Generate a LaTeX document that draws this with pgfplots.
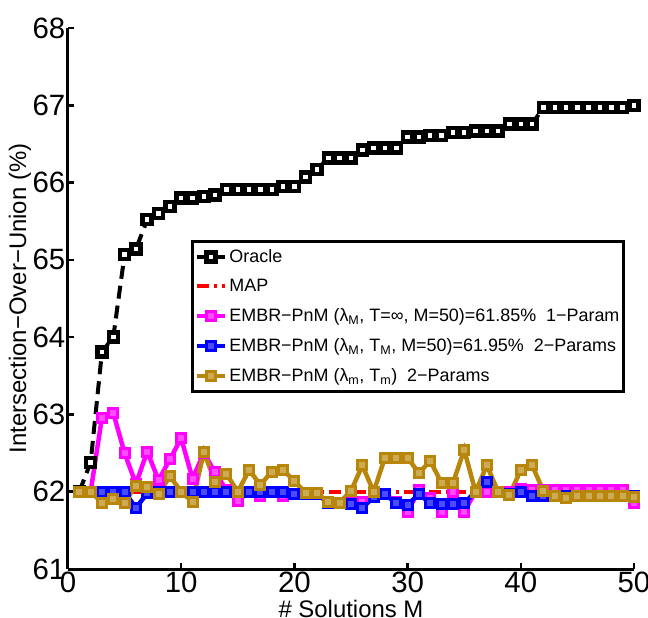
\documentclass[border=0pt]{standalone}
\usepackage{pgfplots}
\pgfplotsset{compat=1.18}
\usepackage{fontspec}
\setmainfont{Liberation Sans}
\definecolor{mybrown}{RGB}{184,134,11}
\definecolor{mymag}{RGB}{255,0,255}
\definecolor{myblue}{RGB}{0,0,255}
\definecolor{myred}{RGB}{255,0,0}

\begin{document}
\begin{tikzpicture}
\begin{axis}[
  at={(0,0)}, anchor=south west,
  scale only axis, width=566bp, height=541bp,
  xmin=0, xmax=50, ymin=61, ymax=68,
  xtick={0,10,...,50}, ytick={61,62,...,68},
  axis lines*=left,
  axis line style={line width=3bp},
  tick align=inside,
  major tick length=6bp,
  tick style={line width=2.5bp, black},
  /pgf/number format/assume math mode=true,
  tick label style={font=\fontsize{29.5}{30}\selectfont},
  xticklabel style={inner sep=1bp, yshift=-2bp},
  yticklabel style={inner sep=1bp, xshift=-1.5bp},
  xlabel={\# Solutions M},
  ylabel={Intersection−Over−Union (\%)},
  label style={font=\fontsize{24}{24}\selectfont},
  xlabel style={at={(axis description cs:0.5,-0.058)}, anchor=north, inner sep=0pt},
  ylabel style={at={(axis description cs:-0.085,0.5)}, anchor=center, inner sep=0pt},
  clip=false,
  legend style={at={(0.984,0.608)}, anchor=north east, draw=black, line width=3bp,
    font=\fontsize{18}{20}\selectfont, row sep=11.5bp, inner xsep=2bp, inner ysep=6bp},
  legend cell align=left,
  legend image code/.code={\draw[mark repeat=2,mark phase=2] plot coordinates {(0bp,0bp) (14bp,0bp) (28bp,0bp)};},
]
\addplot[black, line width=4bp, dash pattern=on 13bp off 7bp, mark=square*, mark size=4.5bp, mark options={solid, fill=white, line width=4.5bp}] table {
x y
1 62.00
2 62.38
3 63.81
4 64.00
5 65.07
6 65.14
7 65.52
8 65.60
9 65.69
10 65.80
11 65.80
12 65.82
13 65.84
14 65.91
15 65.91
16 65.91
17 65.91
18 65.91
19 65.95
20 65.95
21 66.07
22 66.17
23 66.32
24 66.32
25 66.32
26 66.42
27 66.45
28 66.45
29 66.45
30 66.59
31 66.59
32 66.61
33 66.61
34 66.65
35 66.65
36 66.67
37 66.67
38 66.67
39 66.76
40 66.76
41 66.76
42 66.97
43 66.97
44 66.97
45 66.97
46 66.97
47 66.97
48 66.97
49 66.97
50 67.00
};
\addlegendentry{Oracle}
\addplot[myred, line width=4bp, dash pattern=on 12bp off 5bp on 3bp off 5bp] table {
x y
1 62.00
50 62.00
};
\addlegendentry{MAP}
\addplot[mymag, line width=4.5bp, mark=square*, mark size=4.5bp, mark options={solid, fill=mymag!70!white, line width=3bp}] table {
x y
1 62.00
2 62.00
3 62.96
4 63.02
5 62.50
6 62.10
7 62.52
8 62.15
9 62.42
10 62.69
11 62.17
12 62.50
13 62.25
14 62.02
15 61.88
16 62.00
17 61.95
18 62.00
19 61.95
20 61.97
21 61.97
22 61.97
23 61.85
24 61.85
25 61.86
26 61.87
27 61.96
28 61.97
29 61.87
30 61.74
31 62.02
32 61.92
33 61.74
34 62.00
35 61.74
36 62.00
37 62.00
38 62.00
39 62.00
40 62.03
41 62.02
42 62.02
43 62.02
44 62.02
45 62.02
46 62.02
47 62.02
48 62.02
49 62.02
50 61.85
};
\addlegendentry{EMBR−PnM (λ\textsubscript{M}, T=∞, M=50)=61.85\%\ \ 1−Param}
\addplot[myblue, line width=4.5bp, mark=square*, mark size=4.5bp, mark options={solid, fill=myblue!70!white, line width=3bp}] table {
x y
1 62.00
2 62.00
3 62.00
4 62.00
5 62.00
6 61.79
7 61.98
8 62.00
9 62.00
10 62.00
11 62.00
12 62.00
13 62.00
14 62.00
15 62.00
16 62.00
17 61.99
18 62.00
19 62.00
20 61.97
21 61.97
22 61.97
23 61.86
24 61.85
25 61.84
26 61.79
27 61.93
28 61.97
29 61.85
30 61.83
31 61.97
32 61.85
33 61.84
34 61.84
35 61.85
36 62.00
37 62.12
38 62.00
39 61.97
40 62.00
41 61.95
42 61.95
43 61.95
44 61.95
45 61.95
46 61.95
47 61.95
48 61.95
49 61.95
50 61.95
};
\addlegendentry{EMBR−PnM (λ\textsubscript{M}, T\textsubscript{M}, M=50)=61.95\%\ \ 2−Params}
\addplot[mybrown, line width=4.5bp, mark=square*, mark size=4.5bp, mark options={solid, fill=mybrown!70!white, line width=3bp}] table {
x y
1 62.00
2 62.00
3 61.86
4 61.91
5 61.86
6 62.08
7 62.06
8 61.97
9 62.20
10 62.00
11 61.87
12 62.51
13 62.13
14 62.23
15 62.00
16 62.28
17 62.09
18 62.26
19 62.28
20 62.14
21 61.98
22 61.98
23 61.87
24 61.86
25 62.01
26 62.34
27 62.00
28 62.44
29 62.44
30 62.44
31 62.24
32 62.40
33 62.11
34 62.11
35 62.54
36 62.00
37 62.34
38 62.00
39 61.96
40 62.28
41 62.34
42 62.01
43 61.95
44 61.92
45 61.95
46 61.95
47 61.95
48 61.95
49 61.95
50 61.93
};
\addlegendentry{EMBR−PnM (λ\textsubscript{m}, T\textsubscript{m})\ \ 2−Params}
\end{axis}
\pgfresetboundingbox
\path[use as bounding box] (-68bp,-49bp) rectangle (580bp,569bp);
\end{tikzpicture}
\end{document}
